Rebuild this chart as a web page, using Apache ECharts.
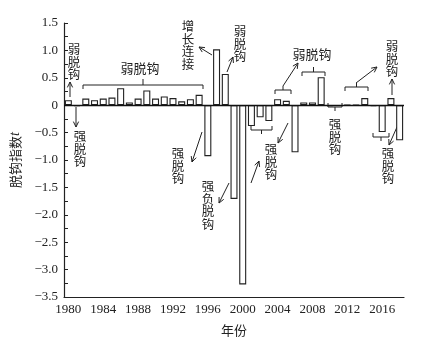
<!DOCTYPE html>
<html>
<head>
<meta charset="utf-8">
<script src="https://cdn.jsdelivr.net/npm/echarts@6/dist/echarts.min.js"></script>
<style>
  html, body { margin: 0; padding: 0; background: #fff; }
  #chart { width: 439px; height: 348px; }
</style>
</head>
<body>
<div id="chart"></div>
<script>
// years 1980-2018
var years = [];
for (var y = 1980; y <= 2018; y++) years.push(String(y));

// decoupling index t
var indexValues = [
  0.09, -0.02, 0.12, 0.09, 0.12, 0.14, 0.31, 0.05, 0.12, 0.27,
  0.12, 0.16, 0.13, 0.07, 0.11, 0.19, -0.93, 1.02, 0.57, -1.71,
  -3.27, -0.38, -0.22, -0.29, 0.11, 0.08, -0.86, 0.05, 0.05, 0.51,
  -0.02, -0.01, 0.01, 0.01, 0.13, -0.02, -0.49, 0.13, -0.64
];

var cjk = '"Liberation Serif", "Noto Sans CJK SC", serif';
var ink = '#222';

function vtext(str, cx, top) {
  return {
    type: 'text', x: cx, y: top,
    style: {
      text: str.split('').join('\n'), font: '12.5px "Noto Sans CJK SC"',
      fill: ink, align: 'center', verticalAlign: 'top', lineHeight: 12.5
    }
  };
}
function htext(str, cx, cy) {
  return {
    type: 'text', x: cx, y: cy,
    style: {
      text: str, font: '13px "Noto Sans CJK SC"', fill: ink,
      align: 'center', verticalAlign: 'middle'
    }
  };
}
function arrow(x1, y1, x2, y2) {
  var a = Math.atan2(y2 - y1, x2 - x1), L = 6, s = 0.45;
  var p1 = [x2 - L * Math.cos(a - s), y2 - L * Math.sin(a - s)];
  var p2 = [x2 - L * Math.cos(a + s), y2 - L * Math.sin(a + s)];
  return [
    { type: 'line', shape: { x1: x1, y1: y1, x2: x2, y2: y2 }, style: { stroke: ink, lineWidth: 1 } },
    { type: 'polyline', shape: { points: [p1, [x2, y2], p2] }, style: { stroke: ink, lineWidth: 1, fill: null } }
  ];
}
// dir 1: ends go down, tick up (above bars); dir -1: ends go up, tick down
function bracket(x1, x2, y, dir, tick) {
  var e = 4 * dir, m = (x1 + x2) / 2;
  return [
    { type: 'polyline', shape: { points: [[x1, y + e], [x1, y], [x2, y], [x2, y + e]] }, style: { stroke: ink, lineWidth: 1, fill: null } },
    { type: 'line', shape: { x1: m, y1: y, x2: m, y2: y - (tick || 4) * dir }, style: { stroke: ink, lineWidth: 1 } }
  ];
}

var g = [];
g.push(vtext('弱脱钩', 74, 43));
g = g.concat(arrow(70, 97, 70, 82));
g = g.concat(arrow(76, 107, 76, 127));
g.push(vtext('强脱钩', 80, 130));
g.push(htext('弱脱钩', 140, 68));
g = g.concat(bracket(83, 203, 85, 1, 6));
g.push(vtext('增长连接', 188, 20));
g = g.concat(arrow(212, 55, 199, 47));
g.push(vtext('弱脱钩', 240, 25));
g = g.concat(arrow(227, 72, 233, 57));
g = g.concat(arrow(202, 132, 192, 162));
g.push(vtext('强脱钩', 178, 147));
g = g.concat(arrow(229, 183, 219, 203));
g.push(vtext('强负脱钩', 208, 180));
g = g.concat(bracket(251, 272, 130, -1, 4));
g = g.concat(arrow(288, 123, 278, 143));
g.push(vtext('强脱钩', 271, 143));
g = g.concat(arrow(251, 183, 259, 161));
g.push(htext('弱脱钩', 312, 54));
g = g.concat(bracket(275, 291, 90, 1, 4));
g = g.concat(arrow(283, 86, 298, 63));
g = g.concat(bracket(302, 325, 72, 1, 5));
g = g.concat(bracket(328, 342, 107, -1, 4));
g.push(vtext('强脱钩', 335, 118));
g = g.concat(bracket(345, 368, 87, 1, 4));
g = g.concat(arrow(356, 83, 377, 67));
g.push(vtext('弱脱钩', 392, 40));
g = g.concat(arrow(392, 95, 392, 79));
g = g.concat(bracket(373, 389, 137, -1, 4));
g = g.concat(arrow(397, 127, 389, 145));
g.push(vtext('强脱钩', 388, 147));

var chart = echarts.init(document.getElementById('chart'));
var option = {
  animation: false,
  grid: { left: 64, right: 35, top: 23, bottom: 51 },
  xAxis: {
    type: 'category',
    data: years,
    name: '年份',
    nameLocation: 'middle',
    nameGap: 27,
    nameTextStyle: { fontFamily: 'Noto Sans CJK SC', fontSize: 13, color: ink },
    axisLine: { onZero: false, lineStyle: { color: ink, width: 1.2 } },
    axisTick: { inside: true, length: 4, interval: 1, alignWithLabel: true, lineStyle: { color: ink } },
    axisLabel: { interval: 3, fontFamily: cjk, fontSize: 13, color: ink, margin: 6 }
  },
  yAxis: {
    type: 'value',
    min: -3.5, max: 1.5, interval: 0.5,
    name: '{a|脱钩指数}{b|t}',
    nameLocation: 'middle',
    nameGap: 42,
    nameTextStyle: {
      color: ink,
      rich: {
        a: { fontFamily: 'Noto Sans CJK SC', fontSize: 13, color: ink },
        b: { fontFamily: 'Liberation Serif', fontStyle: 'italic', fontSize: 14, color: ink }
      }
    },
    axisLine: { show: true, lineStyle: { color: ink, width: 1.2 } },
    axisTick: { show: true, inside: true, length: 4, lineStyle: { color: ink } },
    minorTick: { show: true, splitNumber: 2, length: 4, lineStyle: { color: ink } },
    splitLine: { show: false },
    axisLabel: {
      fontFamily: cjk, fontSize: 13, color: ink, margin: 6,
      formatter: function (v) {
        if (v === 0) return '0';
        return v.toFixed(1).replace('-', '−');
      }
    }
  },
  series: [{
    type: 'bar',
    data: indexValues,
    barWidth: 7,
    itemStyle: { color: '#fff', borderColor: '#222', borderWidth: 1.1 },
    markLine: {
      silent: true,
      symbol: 'none',
      label: { show: false },
      lineStyle: { color: '#111', type: 'solid', width: 1.3 },
      data: [{ yAxis: 0 }]
    }
  }],
  graphic: g
};
chart.setOption(option);
</script>
</body>
</html>
